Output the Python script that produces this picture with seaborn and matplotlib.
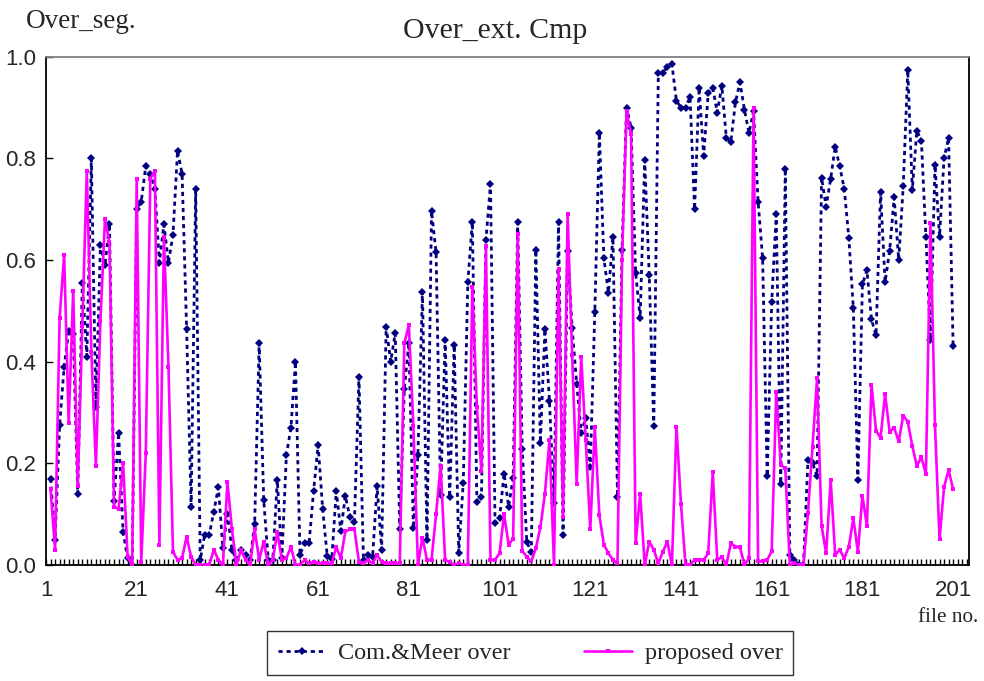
import numpy as np
import pandas as pd
import matplotlib
matplotlib.use("Agg")
import matplotlib.pyplot as plt
from matplotlib.ticker import FixedLocator, MultipleLocator
from matplotlib.lines import Line2D
import seaborn as sns

# ---------------- data ----------------
files = list(range(2, 202))  # file numbers (200 files)

com_meer_over = [
    0.17, 0.05, 0.275, 0.39, 0.46, 0.455, 0.14, 0.555, 0.41, 0.80,
    0.31, 0.63, 0.59, 0.67, 0.125, 0.26, 0.065, 0.013, 0.0, 0.70,
    0.715, 0.785, 0.77, 0.74, 0.595, 0.67, 0.595, 0.65, 0.815, 0.77,
    0.465, 0.115, 0.74, 0.01, 0.06, 0.06, 0.105, 0.153, 0.033, 0.10,
    0.03, 0.01, 0.03, 0.02, 0.01, 0.08, 0.437, 0.128, 0.01, 0.01,
    0.167, 0.013, 0.216, 0.27, 0.40, 0.02, 0.043, 0.043, 0.146, 0.236,
    0.11, 0.018, 0.011, 0.146, 0.067, 0.136, 0.094, 0.085, 0.37, 0.007,
    0.02, 0.015, 0.155, 0.03, 0.469, 0.40, 0.456, 0.07, 0.346, 0.437,
    0.072, 0.216, 0.538, 0.05, 0.696, 0.615, 0.138, 0.443, 0.133, 0.433,
    0.024, 0.162, 0.556, 0.675, 0.123, 0.133, 0.64, 0.75, 0.083, 0.092,
    0.18, 0.115, 0.172, 0.674, 0.228, 0.045, 0.026, 0.62, 0.24, 0.464,
    0.323, 0.121, 0.674, 0.059, 0.618, 0.466, 0.357, 0.26, 0.29, 0.192,
    0.498, 0.85, 0.603, 0.536, 0.645, 0.134, 0.62, 0.90, 0.86, 0.575,
    0.485, 0.797, 0.57, 0.273, 0.967, 0.968, 0.98, 0.985, 0.913, 0.90,
    0.90, 0.921, 0.70, 0.939, 0.805, 0.928, 0.939, 0.89, 0.943, 0.84,
    0.833, 0.91, 0.95, 0.895, 0.85, 0.893, 0.715, 0.603, 0.175, 0.518,
    0.69, 0.16, 0.78, 0.02, 0.01, 0.0, 0.0, 0.207, 0.20, 0.175,
    0.762, 0.705, 0.76, 0.823, 0.784, 0.74, 0.644, 0.505, 0.167, 0.552,
    0.58, 0.483, 0.452, 0.734, 0.557, 0.618, 0.723, 0.60, 0.745, 0.974,
    0.738, 0.854, 0.835, 0.646, 0.443, 0.787, 0.646, 0.80, 0.84, 0.43,
]

proposed_over = [
    0.15, 0.03, 0.486, 0.61, 0.28, 0.54, 0.155, 0.47, 0.775, 0.42,
    0.195, 0.48, 0.68, 0.635, 0.115, 0.11, 0.20, 0.016, 0.0, 0.76,
    0.005, 0.22, 0.76, 0.775, 0.04, 0.645, 0.39, 0.026, 0.01, 0.013,
    0.056, 0.016, 0.0, 0.0, 0.0, 0.0, 0.03, 0.01, 0.0, 0.163,
    0.07, 0.0, 0.03, 0.01, 0.0, 0.07, 0.01, 0.046, 0.0, 0.01,
    0.065, 0.01, 0.013, 0.036, 0.0, 0.0, 0.01, 0.003, 0.006, 0.003,
    0.003, 0.003, 0.003, 0.036, 0.013, 0.066, 0.07, 0.07, 0.006, 0.003,
    0.01, 0.003, 0.02, 0.006, 0.003, 0.003, 0.003, 0.003, 0.436, 0.472,
    0.273, 0.0, 0.054, 0.01, 0.01, 0.10, 0.195, 0.01, 0.006, 0.0,
    0.003, 0.0, 0.0, 0.546, 0.31, 0.184, 0.627, 0.01, 0.01, 0.023,
    0.10, 0.04, 0.052, 0.652, 0.028, 0.016, 0.007, 0.033, 0.074, 0.14,
    0.245, 0.0, 0.582, 0.095, 0.69, 0.413, 0.16, 0.41, 0.245, 0.07,
    0.272, 0.098, 0.04, 0.023, 0.01, 0.003, 0.60, 0.893, 0.847, 0.043,
    0.14, 0.0, 0.046, 0.03, 0.003, 0.026, 0.046, 0.0, 0.272, 0.12,
    0.0, 0.0, 0.01, 0.01, 0.01, 0.023, 0.182, 0.01, 0.016, 0.0,
    0.043, 0.036, 0.035, 0.0, 0.013, 0.90, 0.007, 0.007, 0.01, 0.027,
    0.34, 0.197, 0.19, 0.0, 0.003, 0.0, 0.0, 0.103, 0.233, 0.367,
    0.077, 0.023, 0.167, 0.02, 0.03, 0.013, 0.036, 0.092, 0.026, 0.136,
    0.077, 0.355, 0.264, 0.25, 0.336, 0.262, 0.27, 0.243, 0.294, 0.282,
    0.234, 0.195, 0.212, 0.179, 0.672, 0.275, 0.051, 0.153, 0.187, 0.149,
]

series_labels = ["Com.&Meer over", "proposed over"]
x_tick_labels = ["1", "21", "41", "61", "81", "101", "121", "141", "161", "181", "201"]
y_ticks = [0.0, 0.2, 0.4, 0.6, 0.8, 1.0]

df = pd.DataFrame({"file": files, "com": com_meer_over, "prop": proposed_over})

# ---------------- style ----------------
sns.set_style("white")
plt.rcParams["font.family"] = ["Liberation Serif", "DejaVu Serif"]

NAVY = "#000080"
PINK = "#FF00FF"
NAVY_DASH = (0, (1.5, 1.4))

fig = plt.figure(figsize=(9.84, 6.81), dpi=100)
ax = fig.add_axes([46 / 984, 1 - 565 / 681, (969 - 46) / 984, (565 - 56.7) / 681])

sns.lineplot(data=df, x="file", y="com", ax=ax, color=NAVY, linewidth=2.0,
             linestyle=NAVY_DASH, marker="D", markersize=3.6,
             markeredgewidth=0, markerfacecolor=NAVY, zorder=2)
sns.lineplot(data=df, x="file", y="prop", ax=ax, color=PINK, linewidth=1.9,
             marker="s", markersize=3.2, markeredgewidth=0,
             markerfacecolor=PINK, zorder=3)

ax.set_xlim(1.0, 204.5)
ax.set_ylim(0, 1.0)
ax.set_xlabel("")
ax.set_ylabel("")

ax.xaxis.set_major_locator(FixedLocator([int(s) for s in x_tick_labels]))
ax.set_xticklabels(x_tick_labels)
ax.xaxis.set_minor_locator(MultipleLocator(1))
ax.set_yticks(y_ticks)
ax.set_yticklabels([f"{v:.1f}" for v in y_ticks])

for lab in ax.get_xticklabels() + ax.get_yticklabels():
    lab.set_family(["Liberation Sans", "DejaVu Sans"])
    lab.set_fontsize(16)

ax.tick_params(axis="x", which="both", direction="in", length=4, width=1,
               color="black", bottom=True, top=False, pad=11)
ax.tick_params(axis="y", which="major", direction="in", length=5, width=1,
               color="black", left=True, right=False, pad=7)

for side in ["left", "bottom", "right"]:
    ax.spines[side].set_color("black")
    ax.spines[side].set_linewidth(1.3)
ax.spines["top"].set_color("#808080")
ax.spines["top"].set_linewidth(1.3)

# ---------------- texts ----------------
fig.text(495 / 984, 1 - 31 / 681, "Over_ext. Cmp", ha="center", va="center", fontsize=21.5)
fig.text(26 / 984, 1 - 21 / 681, "Over_seg.", ha="left", va="center", fontsize=19.5)
fig.text(978 / 984, 1 - 617 / 681, "file no.", ha="right", va="center", fontsize=15.3)

# ---------------- legend ----------------
handles = [
    Line2D([], [], color=NAVY, linewidth=2.0, linestyle=NAVY_DASH,
           marker="D", markersize=3.6, markeredgewidth=0),
    Line2D([], [], color=PINK, linewidth=1.9, marker="s", markersize=3.2,
           markeredgewidth=0),
]
leg = fig.legend(handles, series_labels, loc="center",
                 bbox_to_anchor=(530 / 984, 1 - 653 / 681), ncol=2,
                 frameon=True, fancybox=False, shadow=False, fontsize=17.5,
                 handlelength=2.0, handletextpad=0.5, columnspacing=3.0,
                 borderpad=0.45, markerscale=1.0)
leg.get_frame().set_edgecolor("black")
leg.get_frame().set_linewidth(1.0)

fig.savefig("out.png", dpi=100, facecolor="white")
